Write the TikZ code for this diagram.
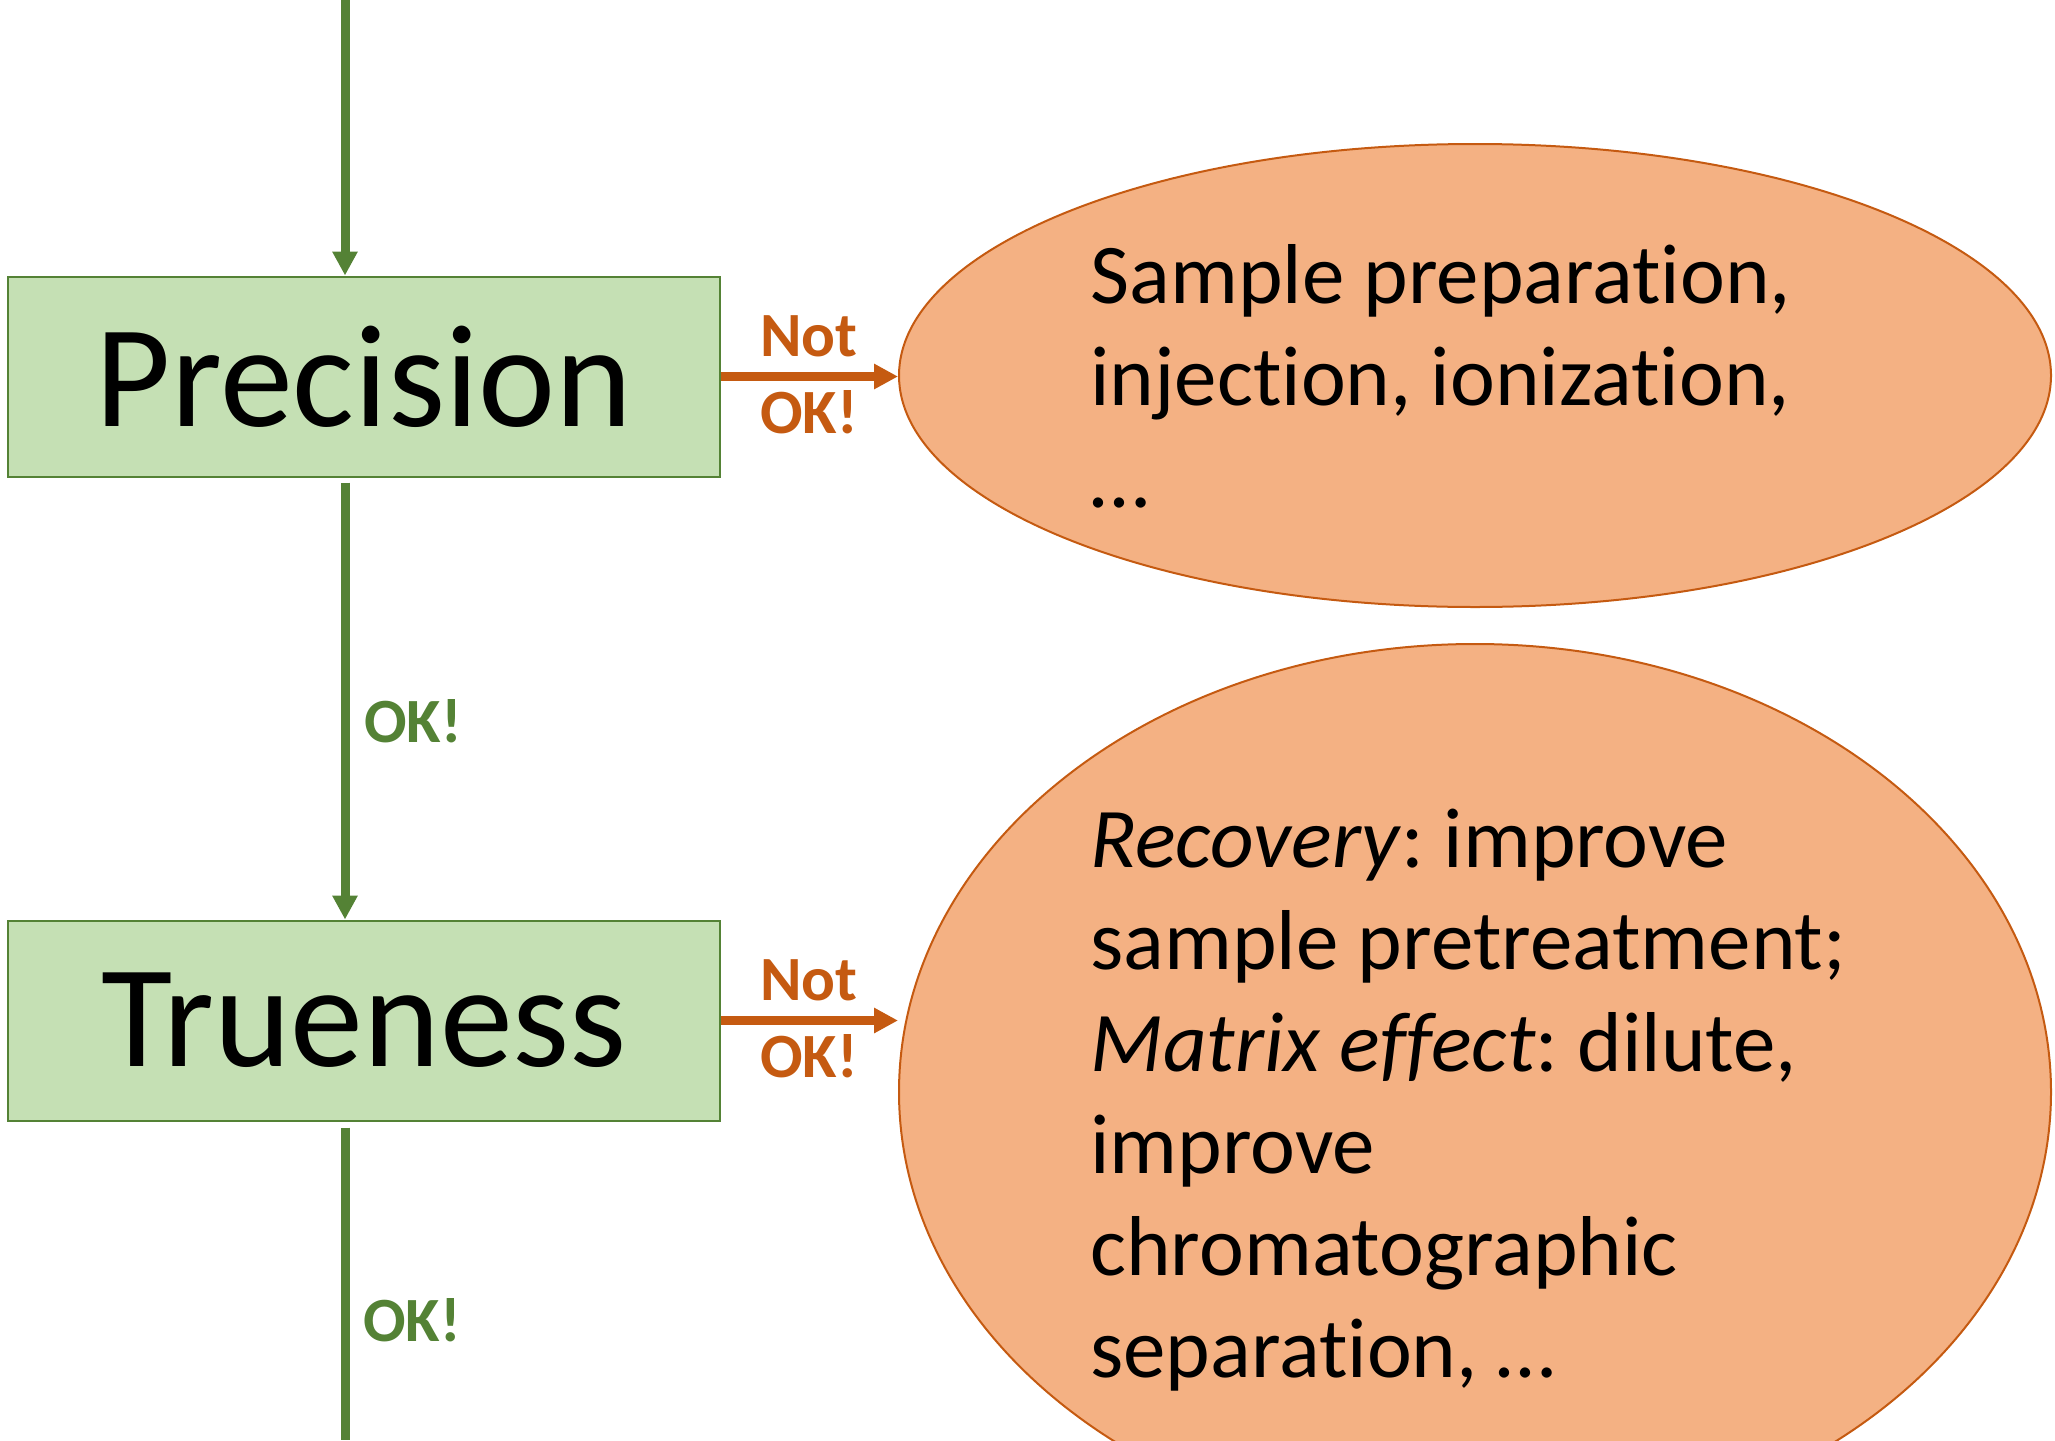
\documentclass[tikz,border=0pt]{standalone}
\usepackage{fontspec}
\setmainfont{Carlito}[Ligatures=NoCommon]
\usetikzlibrary{shapes.geometric,arrows.meta}
\definecolor{boxfill}{HTML}{C5E0B4}
\definecolor{boxline}{HTML}{548235}
\definecolor{okgreen}{HTML}{548235}
\definecolor{ellfill}{HTML}{F4B183}
\definecolor{ellline}{HTML}{C55A11}
\definecolor{nokorange}{HTML}{C55A11}
\frenchspacing
\begin{document}
\begin{tikzpicture}[x=0.5pt,y=-0.5pt,
  stepbox/.style={draw=boxline,line width=1pt,fill=boxfill,minimum width=356pt,minimum height=100pt,inner sep=0pt,font=\fontsize{73}{88}\selectfont},
  bubble/.style={ellipse,draw=ellline,line width=1pt,fill=ellfill,inner sep=0pt},
  bubbletext/.style={anchor=base west,align=left,inner sep=0pt,font=\fontsize{42.5}{51}\selectfont},
  okarrow/.style={draw=okgreen,line width=4.5pt,-{Triangle[length=12pt,width=12pt]}},
  okline/.style={draw=okgreen,line width=4.5pt},
  nokarrow/.style={draw=nokorange,line width=4.5pt,-{Triangle[length=12pt,width=12pt]}},
  oklabel/.style={anchor=base,inner sep=0pt,text=okgreen,font=\fontsize{31.5}{38}\selectfont\bfseries},
  noklabel/.style={anchor=base,inner sep=0pt,text=nokorange,font=\fontsize{31.5}{38}\selectfont\bfseries}
]
\useasboundingbox (0,0) rectangle (2055,1440);
\clip (0,0) rectangle (2055,1440);

% boxes
\node[stepbox] (prec) at (364,376.5) {Precision};
\node[stepbox] (true) at (364,1020.5) {Trueness};

% ellipses
\node[bubble,minimum width=576pt,minimum height=231.5pt] (e1) at (1475,375.5) {};
\node[bubble,minimum width=576pt,minimum height=448pt] (e2) at (1475,1092) {};

% texts (anchored at the baseline of their last line)
\node[bubbletext] (t1) at (1090,507) {Sample preparation,\\injection, ionization,\\…};
\node[bubbletext] (t2) at (1090,1377) {\textit{Recovery}: improve\\sample pretreatment;\\\textit{Matrix effect}: dilute,\\improve\\chromatographic\\separation, …};

% green flow
\coordinate (topin) at (345,0);
\coordinate (botout) at (345,1440);
\draw[okarrow] (topin) -- (topin |- prec.north);
\draw[okarrow] ([yshift=-2.5pt]prec.south -| topin) -- (topin |- true.north);
\draw[okline] ([yshift=-3pt]true.south -| botout) -- (botout);
\node[oklabel] (ok1) at (413,742) {OK!};
\node[oklabel] (ok2) at (412,1341) {OK!};

% orange branches
\draw[nokarrow] (prec.east) -- (prec.east -| e1.west);
\draw[nokarrow] (true.east) -- (true.east -| e2.west);
\node[noklabel] (n1a) at (809,356) {Not};
\node[noklabel] (n1b) at (809,433) {OK!};
\node[noklabel] (n2a) at (809,1000) {Not};
\node[noklabel] (n2b) at (809,1077) {OK!};
\end{tikzpicture}
\end{document}
